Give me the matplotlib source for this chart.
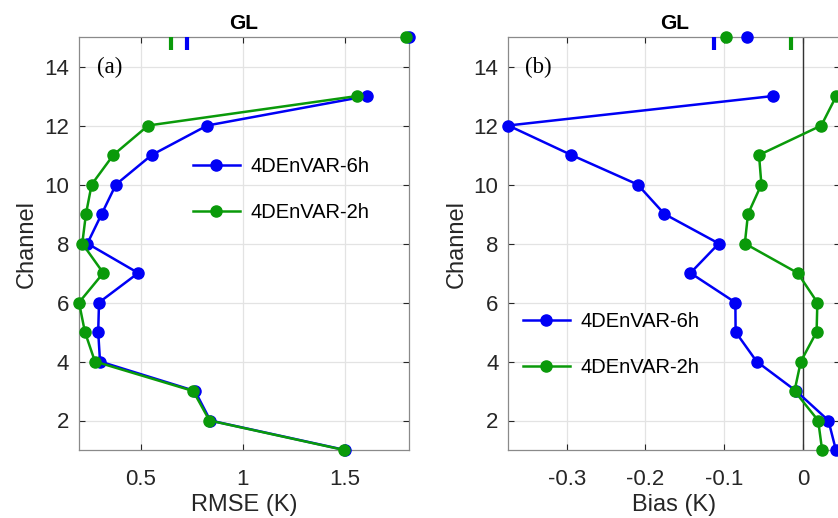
import numpy as np
import matplotlib
matplotlib.use('Agg')
import matplotlib.pyplot as plt

plt.rcParams['font.family'] = ['Liberation Sans', 'DejaVu Sans']

BLUE = '#0000f5'
GREEN = '#0a9a0a'

channels = np.arange(1, 16)
# channel 14 has no value (nan breaks the line)
rmse_6h = [1.50, 0.84, 0.765, 0.30, 0.291, 0.295, 0.487, 0.238, 0.308, 0.378,
           0.553, 0.825, 1.609, np.nan, 1.813]
rmse_2h = [1.495, 0.836, 0.756, 0.275, 0.226, 0.197, 0.316, 0.213, 0.231, 0.259,
           0.365, 0.536, 1.560, np.nan, 1.80]
bias_6h = [0.0415, 0.032, -0.009, -0.059, -0.0857, -0.086, -0.143, -0.107, -0.176,
           -0.210, -0.294, -0.374, -0.038, np.nan, -0.0717]
bias_2h = [0.024, 0.019, -0.011, -0.003, 0.017, 0.018, -0.007, -0.074, -0.070,
           -0.053, -0.056, 0.023, 0.042, np.nan, -0.098]
# short marks drawn at the top of each panel
rmse_marks = {'6h': 0.725, '2h': 0.647}
bias_marks = {'6h': -0.1136, '2h': -0.016}

labels = ['4DEnVAR-6h', '4DEnVAR-2h']

fig = plt.figure(figsize=(8.38, 5.18), dpi=100)
ax1 = fig.add_axes([79 / 838, 68 / 518, 330 / 838, 413 / 518])
ax2 = fig.add_axes([508.3 / 838, 68 / 518, 331.7 / 838, 413 / 518])


def style_axis(ax):
    ax.set_ylim(1, 15)
    ax.set_yticks(range(2, 15, 2))
    ax.grid(True, color='#e3e3e3', linewidth=0.9)
    ax.set_axisbelow(True)
    ax.tick_params(direction='in', length=4.5, width=0.8, top=True, right=True,
                   colors='#262626', labelsize=16)
    ax.tick_params(axis='x', pad=13.5)
    ax.tick_params(axis='y', pad=7)
    for s in ax.spines.values():
        s.set_color('#8a8a8a')
        s.set_linewidth(0.9)
    ax.set_ylabel('Channel', fontsize=17, color='#262626', labelpad=4.5)
    ax.set_title('GL', fontsize=15, fontweight='bold', pad=6)


def draw(ax, s6, s2, marks):
    for vals, col, lab in [(s6, BLUE, labels[0]), (s2, GREEN, labels[1])]:
        ax.plot(vals, channels, '-o', color=col, lw=1.8, ms=8, label=lab,
                clip_on=False, zorder=3)
    ax.vlines([marks['6h']], 14.56, 15, color=BLUE, lw=3, clip_on=False, zorder=3)
    ax.vlines([marks['2h']], 14.56, 15, color=GREEN, lw=3, clip_on=False, zorder=3)


# (a) RMSE
style_axis(ax1)
draw(ax1, rmse_6h, rmse_2h, rmse_marks)
ax1.set_xlim(np.nanmin(rmse_2h), np.nanmax(rmse_6h))
ax1.set_xticks([0.5, 1, 1.5])
ax1.set_xticklabels(['0.5', '1', '1.5'])
ax1.set_xlabel('RMSE (K)', fontsize=17, color='#262626', labelpad=3)
ax1.text(0.055, 0.927, '(a)', transform=ax1.transAxes, fontsize=16.5,
         family='Liberation Serif', va='center', ha='left')
ax1.legend(loc='upper left', bbox_to_anchor=(0.345, 0.709), frameon=False,
           fontsize=14.5, borderpad=0, borderaxespad=0, handlelength=2.34,
           handletextpad=0.5, labelspacing=1.34)

# (b) Bias
style_axis(ax2)
draw(ax2, bias_6h, bias_2h, bias_marks)
ax2.axvline(0, color='#333333', lw=1, zorder=2)
ax2.set_xlim(-0.374, 0.0467)
ax2.set_xticks([-0.3, -0.2, -0.1, 0])
ax2.set_xticklabels(['-0.3', '-0.2', '-0.1', '0'])
ax2.set_xlabel('Bias (K)', fontsize=17, color='#262626', labelpad=3)
ax2.text(0.05, 0.927, '(b)', transform=ax2.transAxes, fontsize=16.5,
         family='Liberation Serif', va='center', ha='left')
ax2.legend(loc='upper left', bbox_to_anchor=(0.044, 0.334), frameon=False,
           fontsize=14.5, borderpad=0, borderaxespad=0, handlelength=2.34,
           handletextpad=0.5, labelspacing=1.34)

fig.savefig('out.png', dpi=100)
